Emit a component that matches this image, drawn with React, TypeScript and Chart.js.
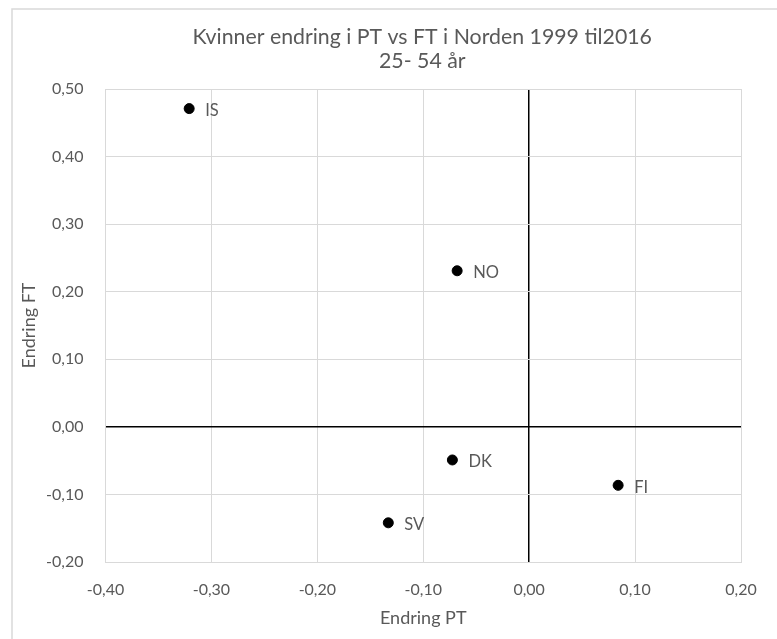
import React, { useEffect, useRef } from "react";
import { Chart, registerables } from "chart.js";

Chart.register(...registerables);

const countries = ["IS", "NO", "DK", "FI", "SV"];
const endringPT = [-0.321, -0.068, -0.0725, 0.084, -0.133];
const endringFT = [0.471, 0.231, -0.049, -0.0865, -0.142];
const titleLines = ["Kvinner endring i PT vs FT i Norden 1999 til2016", "25- 54 år"];
const xTitle = "Endring PT";
const yTitle = "Endring FT";

const FONT = "Lato, 'Liberation Sans', sans-serif";
const TEXT = "#595959";
const GRID = "#d9d9d9";

const fmt = (v: number) => (Math.abs(v) < 1e-9 ? 0 : v).toFixed(2).replace(".", ",");
const isZero = (c: any) => c.tick && Math.abs(c.tick.value) < 1e-9;

const labelPlugin = {
  id: "pointLabels",
  afterDatasetsDraw(chart: any) {
    const ctx = chart.ctx;
    const meta = chart.getDatasetMeta(0);
    ctx.save();
    ctx.font = `16.5px ${FONT}`;
    ctx.fillStyle = TEXT;
    ctx.textAlign = "left";
    ctx.textBaseline = "middle";
    meta.data.forEach((el: any, i: number) => {
      ctx.fillText(countries[i], el.x + 16, el.y + 2);
    });
    ctx.restore();
  },
};

const titlePlugin = {
  id: "centeredTitle",
  afterDraw(chart: any) {
    const ctx = chart.ctx;
    const cx = (chart.chartArea.left + chart.chartArea.right) / 2;
    ctx.save();
    ctx.font = `21.3px ${FONT}`;
    ctx.fillStyle = TEXT;
    ctx.textAlign = "center";
    ctx.textBaseline = "middle";
    ctx.fillText(titleLines[0], cx - 1, 37);
    ctx.fillText(titleLines[1], cx - 1, 61);
    ctx.restore();
  },
};

const framePlugin = {
  id: "frame",
  beforeDraw(chart: any) {
    const ctx = chart.ctx;
    ctx.save();
    ctx.fillStyle = "#ffffff";
    ctx.fillRect(0, 0, chart.width, chart.height);
    ctx.strokeStyle = GRID;
    ctx.lineWidth = 1.5;
    ctx.beginPath();
    ctx.moveTo(12, chart.height + 2);
    ctx.lineTo(12, 9);
    ctx.lineTo(chart.width + 2, 9);
    ctx.stroke();
    ctx.restore();
  },
};

export default function App() {
  const ref = useRef<HTMLCanvasElement>(null);
  useEffect(() => {
    if (!ref.current) return;
    const chart = new Chart(ref.current, {
      type: "scatter",
      data: {
        datasets: [
          {
            data: endringPT.map((x, i) => ({ x, y: endringFT[i] })),
            backgroundColor: "#000000",
            borderColor: "#000000",
            pointRadius: 5,
            pointHoverRadius: 5,
          },
        ],
      },
      options: {
        animation: false,
        responsive: false,
        layout: { padding: { left: 18, right: 36, top: 89, bottom: 10 } },
        plugins: {
          legend: { display: false },
          tooltip: { enabled: false },
          title: { display: false },
        },
        scales: {
          x: {
            type: "linear",
            min: -0.4,
            max: 0.2,
            ticks: {
              stepSize: 0.1,
              color: TEXT,
              font: { family: FONT, size: 16 },
              padding: 18,
              callback: (v: any) => fmt(Number(v)),
            },
            grid: {
              color: (c: any) => (isZero(c) ? "#000000" : GRID),
              lineWidth: (c: any) => (isZero(c) ? 1.5 : 1),
              drawTicks: false,
            },
            border: { display: true, color: GRID },
            title: {
              display: true,
              text: xTitle,
              color: TEXT,
              font: { family: FONT, size: 18 },
              padding: 0,
            },
            afterFit: (s: any) => {
              s.height = 639 - 10 - 562;
            },
          },
          y: {
            type: "linear",
            min: -0.2,
            max: 0.5,
            ticks: {
              stepSize: 0.1,
              color: TEXT,
              font: { family: FONT, size: 16 },
              padding: 22,
              callback: (v: any) => fmt(Number(v)),
            },
            grid: {
              color: (c: any) => (isZero(c) ? "#000000" : GRID),
              lineWidth: (c: any) => (isZero(c) ? 1.5 : 1),
              drawTicks: false,
            },
            border: { display: true, color: GRID },
            title: {
              display: true,
              text: yTitle,
              color: TEXT,
              font: { family: FONT, size: 18 },
              padding: 0,
            },
            afterFit: (s: any) => {
              s.width = 105.5 - 18;
            },
          },
        },
      },
      plugins: [framePlugin, labelPlugin, titlePlugin],
    });
    return () => chart.destroy();
  }, []);
  return (
    <div style={{ position: "absolute", left: 0, top: 0, width: 777, height: 639 }}>
      <canvas ref={ref} width={777} height={639} />
    </div>
  );
}
